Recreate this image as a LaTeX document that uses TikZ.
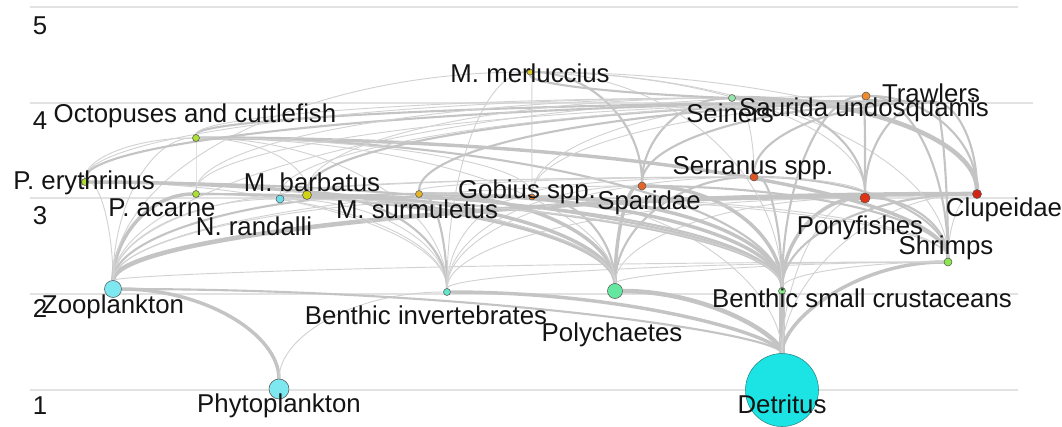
\documentclass[tikz,border=0pt]{standalone}
\usepackage{fontspec}
\setmainfont{Liberation Sans}
\usetikzlibrary{calc}
\pgfdeclarelayer{gridlayer}
\pgfdeclarelayer{edgelayer}
\pgfsetlayers{gridlayer,edgelayer,main}
\definecolor{gridc}{RGB}{226,226,226}
\definecolor{edgec}{RGB}{196,196,196}
\definecolor{edgelc}{RGB}{210,210,210}
\definecolor{txtc}{RGB}{20,20,20}
\definecolor{outc}{RGB}{85,85,85}
\definecolor{detc}{RGB}{28,228,228}
\definecolor{detoc}{RGB}{40,130,130}
\definecolor{planc}{RGB}{125,232,240}
\definecolor{binvc}{RGB}{100,230,200}
\definecolor{polyc}{RGB}{100,232,160}
\definecolor{bscc}{RGB}{140,235,140}
\definecolor{shrc}{RGB}{140,230,80}
\definecolor{seic}{RGB}{150,230,170}
\definecolor{nranc}{RGB}{110,220,235}
\definecolor{greenyc}{RGB}{170,225,50}
\definecolor{mbarc}{RGB}{210,210,20}
\definecolor{msurc}{RGB}{230,180,40}
\definecolor{mmerc}{RGB}{220,200,40}
\definecolor{gobc}{RGB}{230,130,50}
\definecolor{spac}{RGB}{230,100,40}
\definecolor{serc}{RGB}{225,85,30}
\definecolor{sauc}{RGB}{240,140,40}
\definecolor{ponyc}{RGB}{225,50,20}
\definecolor{cluc}{RGB}{210,35,20}
\definecolor{trawc}{RGB}{40,40,40}
\tikzset{
  fwdot/.style={circle, inner sep=0pt, outer sep=0pt, draw=outc, line width=0.4pt},
  fwlab/.style={inner sep=0pt, outer sep=0pt, font=\fontsize{19.35}{23}\selectfont, text height=13.85pt, text depth=0pt, text=txtc},
  gridln/.style={draw=gridc, line width=0.9pt},
  fwline/.style={draw=edgec},
  ew1/.style={draw=edgelc, line width=0.7pt},
  ew2/.style={line width=1.6pt},
  ew3/.style={line width=2.6pt},
  ew4/.style={line width=3.4pt},
  ew5/.style={line width=4.4pt},
}
\newcommand{\fwnode}[5]{\node[fwdot, fill=#5, minimum size=#4*1.5pt] (#1) at (#2,#3) {};}
\newcommand{\fwedge}[3][ew1]{\draw[fwline,#1] (#2) .. controls ($(#2)!0.55!(#2|-#3)$) and ($(#3)!0.55!(#3-|#2)$) .. (#3);}
\begin{document}
\begin{tikzpicture}[x=0.75pt, y=-0.75pt]
\useasboundingbox (0,0) rectangle (1062,426);
% grid
\begin{pgfonlayer}{gridlayer}
\draw[gridln] (30,7) -- (1018,7);
\draw[gridln] (30,103) -- (1033,103);
\draw[gridln] (30,198) -- (1018,198);
\draw[gridln] (30,294) -- (1018,294);
\draw[gridln] (30,390) -- (1018,390);
\end{pgfonlayer}
\node[fwlab] (ax5) at (40,25) {5};
\node[fwlab] (ax4) at (40,120) {4};
\node[fwlab] (ax3) at (40,215) {3};
\node[fwlab] (ax2) at (40,308) {2};
\node[fwlab] (ax1) at (40,405) {1};
% nodes
\node[fwdot, fill=detc, draw=detoc, minimum size=54.75pt] (det) at (782,390) {};
\fwnode{phy}{279}{389}{10}{planc}
\fwnode{zoo}{113}{289}{8.5}{planc}
\fwnode{binv}{447}{292}{3.5}{binvc}
\fwnode{poly}{615}{291}{7.5}{polyc}
\fwnode{bsc}{782}{291}{3.5}{bscc}
\fwnode{shr}{948}{262}{4}{shrc}
\fwnode{pony}{865}{198}{5}{ponyc}
\fwnode{clu}{977}{194}{4.5}{cluc}
\fwnode{ser}{754}{177}{4}{serc}
\fwnode{spa}{642}{186}{4}{spac}
\fwnode{gob}{532}{197}{3}{gobc}
\fwnode{msur}{419}{194}{3.5}{msurc}
\fwnode{mbar}{307}{195}{4.5}{mbarc}
\fwnode{nran}{280}{199}{4}{nranc}
\fwnode{pac}{196}{194}{3.5}{greenyc}
\fwnode{pery}{85}{182}{3.5}{greenyc}
\fwnode{oct}{196}{138}{3.5}{greenyc}
\fwnode{mmer}{530}{72}{3}{mmerc}
\fwnode{sei}{732}{98}{3.5}{seic}
\fwnode{sau}{866}{96}{4}{sauc}
\fwnode{traw}{932}{102}{2}{trawc}
% edges
\begin{pgfonlayer}{edgelayer}
\fwedge[ew3]{phy}{zoo}
\fwedge{phy}{binv}
\fwedge[ew5]{det}{bsc}
\fwedge[ew4]{det}{poly}
\fwedge[ew3]{det}{binv}
\fwedge[ew3]{det}{shr}
\fwedge[ew2]{det}{zoo}
\fwedge{det}{gob}
\fwedge{det}{pony}
\fwedge{det}{clu}
\fwedge{zoo}{pery}
\fwedge[ew3]{zoo}{pac}
\fwedge{zoo}{nran}
\fwedge{zoo}{mbar}
\fwedge[ew2]{zoo}{msur}
\fwedge[ew4]{zoo}{clu}
\fwedge[ew2]{zoo}{pony}
\fwedge{zoo}{gob}
\fwedge{zoo}{oct}
\fwedge{zoo}{shr}
\fwedge{zoo}{spa}
\fwedge{zoo}{mmer}
\fwedge{zoo}{sau}
\fwedge{binv}{pery}
\fwedge{binv}{pac}
\fwedge{binv}{nran}
\fwedge[ew2]{binv}{mbar}
\fwedge[ew2]{binv}{msur}
\fwedge{binv}{gob}
\fwedge{binv}{spa}
\fwedge{binv}{ser}
\fwedge{binv}{oct}
\fwedge{binv}{pony}
\fwedge{binv}{mmer}
\fwedge{binv}{shr}
\fwedge[ew3]{poly}{pery}
\fwedge[ew2]{poly}{pac}
\fwedge[ew3]{poly}{mbar}
\fwedge[ew3]{poly}{msur}
\fwedge[ew2]{poly}{gob}
\fwedge[ew3]{poly}{spa}
\fwedge[ew2]{poly}{ser}
\fwedge{poly}{pony}
\fwedge{poly}{oct}
\fwedge{poly}{shr}
\fwedge{poly}{nran}
\fwedge[ew3]{bsc}{spa}
\fwedge[ew3]{bsc}{gob}
\fwedge[ew3]{bsc}{msur}
\fwedge[ew2]{bsc}{mbar}
\fwedge[ew2]{bsc}{pery}
\fwedge[ew2]{bsc}{pac}
\fwedge{bsc}{nran}
\fwedge[ew2]{bsc}{ser}
\fwedge[ew3]{bsc}{pony}
\fwedge[ew2]{bsc}{clu}
\fwedge{bsc}{shr}
\fwedge[ew2]{bsc}{oct}
\fwedge[ew2]{bsc}{sau}
\fwedge{bsc}{mmer}
\fwedge[ew3]{shr}{oct}
\fwedge[ew2]{shr}{spa}
\fwedge[ew2]{shr}{ser}
\fwedge[ew2]{shr}{pony}
\fwedge{shr}{msur}
\fwedge[ew2]{shr}{sau}
\fwedge[ew2]{shr}{traw}
\fwedge{shr}{mmer}
\fwedge{shr}{gob}
\fwedge{shr}{clu}
\fwedge{pery}{oct}
\fwedge{pac}{oct}
\fwedge{mbar}{oct}
\fwedge{gob}{oct}
\fwedge{gob}{ser}
\fwedge{gob}{mmer}
\fwedge{gob}{sau}
\fwedge[ew2]{pony}{sau}
\fwedge{pony}{ser}
\fwedge{pony}{mmer}
\fwedge[ew2]{clu}{sau}
\fwedge{clu}{mmer}
\fwedge[ew4]{clu}{sei}
\fwedge[ew2]{clu}{traw}
\fwedge[ew2]{spa}{mmer}
\fwedge[ew2]{spa}{sei}
\fwedge{nran}{ser}
\fwedge{mbar}{ser}
\fwedge{msur}{ser}
\fwedge[ew2]{oct}{traw}
\fwedge{oct}{sei}
\fwedge[ew2]{pery}{traw}
\fwedge{pery}{sei}
\fwedge{pac}{traw}
\fwedge{pac}{sei}
\fwedge[ew2]{mbar}{traw}
\fwedge{mbar}{sei}
\fwedge[ew2]{msur}{traw}
\fwedge[ew2]{mmer}{traw}
\fwedge[ew2]{ser}{traw}
\fwedge{ser}{sei}
\fwedge[ew2]{spa}{traw}
\fwedge{gob}{traw}
\fwedge[ew2]{pony}{traw}
\fwedge[ew2]{pony}{sei}
\fwedge[ew2]{sau}{traw}
\fwedge{nran}{traw}
\end{pgfonlayer}
% labels
\node[fwlab] (lmmer) at (530,73) {M. merluccius};
\node[fwlab] (loct) at (195,113) {Octopuses and cuttlefish};
\node[fwlab] (lsei) at (730,113) {Seiners};
\node[fwlab] (lsau) at (864,107) {Saurida undosquamis};
\node[fwlab] (ltraw) at (931,93) {Trawlers};
\node[fwlab] (lser) at (753,165) {Serranus spp.};
\node[fwlab] (lpery) at (84,180) {P. erythrinus};
\node[fwlab] (lmbar) at (312,182) {M. barbatus};
\node[fwlab] (lgob) at (527,189) {Gobius spp.};
\node[fwlab] (lspa) at (649,200) {Sparidae};
\node[fwlab] (lclu) at (1004,207) {Clupeidae};
\node[fwlab] (lpac) at (162,207) {P. acarne};
\node[fwlab] (lmsur) at (417,209) {M. surmuletus};
\node[fwlab] (lnran) at (254,226) {N. randalli};
\node[fwlab] (lpony) at (860,225) {Ponyfishes};
\node[fwlab] (lshr) at (946,245) {Shrimps};
\node[fwlab] (lzoo) at (113,304) {Zooplankton};
\node[fwlab] (lbsc) at (862,298) {Benthic small crustaceans};
\node[fwlab] (lbinv) at (426,315) {Benthic invertebrates};
\node[fwlab] (lpoly) at (612,332) {Polychaetes};
\node[fwlab] (lphy) at (279,403) {Phytoplankton};
\node[fwlab] (ldet) at (782,404) {Detritus};
\end{tikzpicture}
\end{document}
